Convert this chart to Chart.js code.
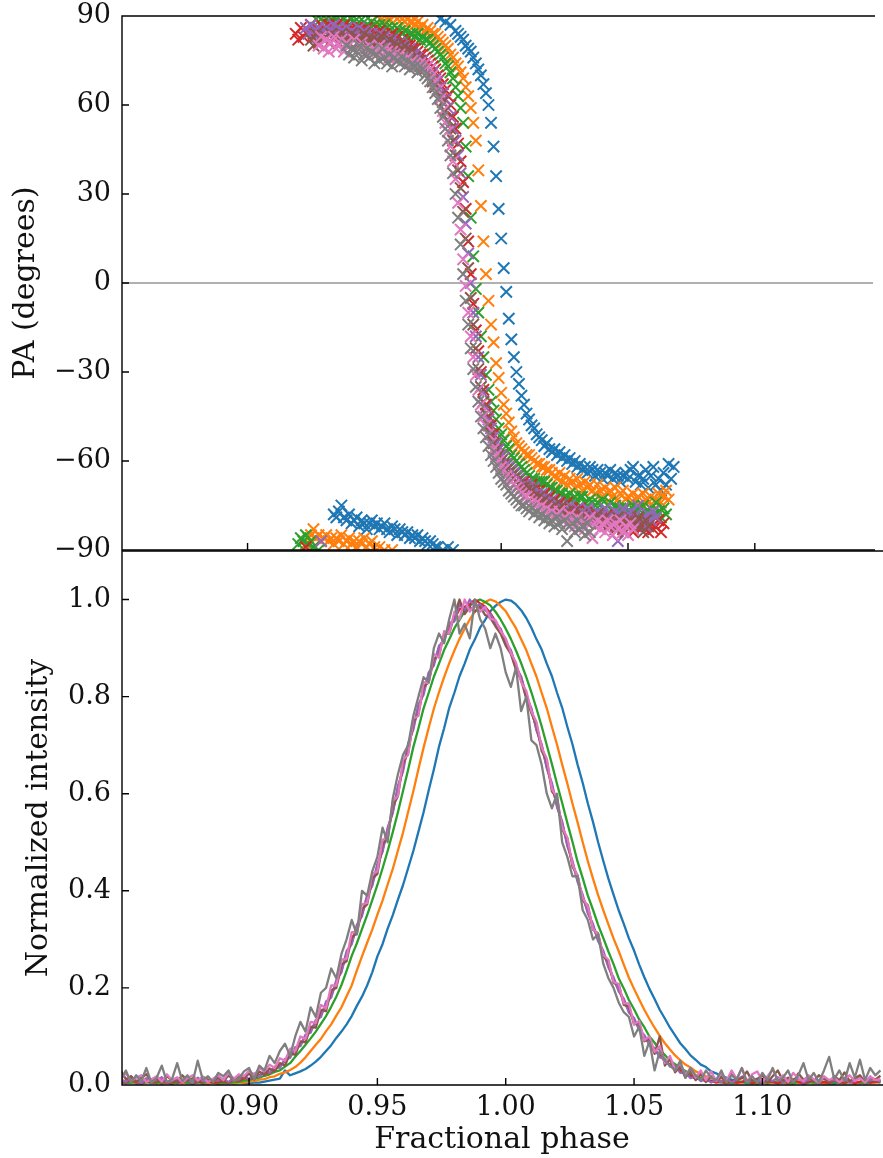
<!DOCTYPE html>
<html>
<head>
<meta charset="utf-8">
<script src="https://cdn.jsdelivr.net/npm/chart.js@4.4.1/dist/chart.umd.min.js"></script>
<style>
  html, body { margin: 0; padding: 0; background: #fff; }
  #wrap { position: relative; width: 883px; height: 1158px; overflow: hidden; }
  #wrap canvas { position: absolute; left: 0; }
  #intensityCanvas { top: 540px; }
  #paCanvas { top: 0; }
</style>
</head>
<body>
<div id="wrap">
  <canvas id="intensityCanvas" width="883" height="618"></canvas>
  <canvas id="paCanvas" width="883" height="560"></canvas>
</div>
<script>
// ---- axis limits and tick values ----
const PHASE_MIN = 0.8505;
const PHASE_MAX = 1.1466;
const phaseTicks = [0.90, 0.95, 1.00, 1.05, 1.10];
const paTicks = [-90, -60, -30, 0, 30, 60, 90];
const intensityTicks = [0.0, 0.2, 0.4, 0.6, 0.8, 1.0];

// ---- position angle: phase bins and one PA list per profile (degrees) ----
const paPhase = [
  0.919,0.920,0.921,0.922,0.923,0.924,0.925,0.926,0.927,0.928,
  0.929,0.930,0.931,0.932,0.933,0.934,0.935,0.936,0.937,0.938,
  0.939,0.940,0.941,0.942,0.943,0.944,0.945,0.946,0.947,0.948,
  0.949,0.950,0.951,0.952,0.953,0.954,0.955,0.956,0.957,0.958,
  0.959,0.960,0.961,0.962,0.963,0.964,0.965,0.966,0.967,0.968,
  0.969,0.970,0.971,0.972,0.973,0.974,0.975,0.976,0.977,0.978,
  0.979,0.980,0.981,0.982,0.983,0.984,0.985,0.986,0.987,0.988,
  0.989,0.990,0.991,0.992,0.993,0.994,0.995,0.996,0.997,0.998,
  0.999,1.000,1.001,1.002,1.003,1.004,1.005,1.006,1.007,1.008,
  1.009,1.010,1.011,1.012,1.013,1.014,1.015,1.016,1.017,1.018,
  1.019,1.020,1.021,1.022,1.023,1.024,1.025,1.026,1.027,1.028,
  1.029,1.030,1.031,1.032,1.033,1.034,1.035,1.036,1.037,1.038,
  1.039,1.040,1.041,1.042,1.043,1.044,1.045,1.046,1.047,1.048,
  1.049,1.050,1.051,1.052,1.053,1.054,1.055,1.056,1.057,1.058,
  1.059,1.060,1.061,1.062,1.063,1.064,1.065,1.066,1.067,1.068
];

const pa0 = [
  null,null,null,null,null,null,null,null,null,null,null,null,null,null,null,
  -78,-79,-77,-75,-79,-80,-78,-81,-80,-79,
  -82,-80,-81,-83,-81,-80,-82,-81,-83,-82,
  -81,-83,-84,-82,-83,-85,-83,-84,-85,-84,
  -86,-85,-86,-85,-87,-86,-87,-88,-87,-88,
  -89,
  -89,89,-90,88,-89,87,-90,85,84,83,
  82,80,79,78,76,74,72,70,67,64,
  60,54,46,36,25,15,5,-3,-12,-19,
  -25,-30,-34,-38,-41,-44,-46,-48,-49,-51,
  -52,-53,
  -55,-54,-56,-57,-56,-58,-57,-59,-58,-60,
  -59,-61,-60,-62,-61,-63,-62,-64,-62,-63,
  -65,-63,-64,-66,-64,-65,-63,-66,-64,-65,
  -67,-65,-64,-66,-63,-62,-67,-65,-68,-66,
  -63,-69,-65,-62,-68,-66,-70,-64,-68,-61,
  -66,-62
];

const pa1 = [
  null,null,null,null,
  -88,-86,-85,-83,-86,-85,-87,-86,-85,-87,
  -86,-88,-86,-87,-85,-88,-87,-86,-88,-87,
  -89,-87,-88,-86,-89,-88,-87,-89,90,-89,
  89,-90,89,
  89,-90,90,89,90,89,88,89,88,88,
  87,88,86,87,85,86,85,84,84,83,
  82,81,80,79,77,76,74,73,71,69,
  66,63,59,54,48,38,26,14,3,-6,
  -14,-20,-27,-32,-37,-41,-44,-47,-50,-52,
  -54,-55,-56,-57,-58,-58,-59,-60,-61,-61,
  -62,-62,-63,-63,-64,-65,
  -66,-64,-67,-65,-68,-66,-67,-69,-66,-68,
  -70,-67,-69,-68,-70,-71,-68,-70,-72,-69,
  -71,-70,-72,-69,-73,-71,-70,-73,-72,-74,
  -71,-73,-72,-75,-71,-73,-74,-72,-75,-73,
  -71,-74,-72,-70,-73,
  null,null
];

const pa2 = [
  null,
  -88,-86,-87,-85,-88,-87,-89,89,-90,89,
  88,89,87,89,88,90,88,87,89,88,
  87,89,88,87,88,86,88,87,86,88,
  87,86,87,85,87,86,85,86,84,86,
  85,84,85,83,84,84,83,84,82,83,
  82,
  82,81,80,79,78,77,76,74,73,71,
  69,66,63,59,54,46,36,22,9,-2,
  -10,-18,-25,-31,-36,-40,-43,-46,-49,-51,
  -53,-55,-56,-58,-59,-60,-61,-62,-63,-64,
  -65,-66,-66,-67,-67,-67,
  -67,-68,-69,-69,-70,-70,-71,-71,-72,-72,
  -71,-73,-72,-74,-72,-72,-74,-75,-73,-74,
  -75,-74,-75,-73,-76,-75,-74,-77,-75,-76,
  -76,-78,-76,-77,-79,-75,-77,-76,-78,-75,
  -77,-79,-76,-78,-74,-77,-79,-76,-78,
  null,null,null
];

const pa3 = [
  84,82,86,83,-89,85,87,84,86,85,
  87,86,
  86,87,85,86,87,86,85,87,86,85,
  86,84,86,85,84,85,86,84,85,83,
  84,85,83,84,82,83,84,82,83,81,
  82,81,80,80,79,79,78,77,77,76,
  75,74,73,72,70,69,67,65,63,60,
  56,52,47,41,34,25,14,3,-7,-16,
  -23,-30,-36,-41,-45,-48,-51,-54,-56,-58,
  -59,-61,-62,-63,-64,-65,-66,-67,-67,-68,
  -69,-68,-70,-71,-70,-72,-71,-73,-72,-74,
  -73,-75,-74,-76,-75,-74,-77,-76,-78,-77,
  -76,-78,-79,-77,-78,-80,-78,-79,-81,-79,
  -80,-78,-81,-80,-82,-79,-81,-83,-80,-82,
  -79,-84,-81,-80,-83,-82,-80,-84,-81,-83,
  -82,-80,-84,-81,
  null,null,null,null
];

const pa4 = [
  null,null,null,null,
  86,84,87,85,83,86,-87,85,
  86,84,85,87,84,86,85,83,86,84,
  85,83,84,86,83,85,84,82,84,83,
  82,84,81,83,82,80,82,81,79,81,
  80,79,78,79,77,77,76,75,75,74,
  73,72,71,69,68,66,64,62,59,56,
  52,48,43,37,29,20,10,0,-10,-18,
  -25,-31,-37,-42,-46,-49,-52,-54,-56,-58,
  -59,-61,-62,-63,-64,-65,-66,-67,-68,-68,
  -69,-70,-69,-71,-72,-71,-73,-72,-74,-73,
  -75,-74,-76,-75,-77,-76,-75,-78,-77,-76,
  -79,-77,-78,-76,-79,-78,-80,-77,-79,-78,
  -76,-80,-78,-79,-77,-87,-78,-76,-80,-79,
  -77,-81,-78,-75,-80,-79,-82,-78,-80,-77,
  -79,
  null,null,null,null,null,null,null
];

const pa5 = [
  null,null,null,null,null,null,
  82,80,84,81,83,82,
  83,81,84,82,83,81,84,82,83,81,
  84,82,83,81,82,84,81,83,82,80,
  82,81,83,80,81,82,79,81,80,78,
  79,80,78,77,78,76,75,75,73,72,
  71,70,68,66,65,63,61,58,55,52,
  48,43,38,32,24,15,5,-5,-14,-22,
  -29,-35,-40,-44,-48,-51,-54,-56,-58,-60,
  -61,-63,-64,-65,-66,-67,-68,-69,-69,-70,
  -71,-70,-72,-73,-72,-74,-73,-75,-74,-76,
  -75,-77,-76,-75,-78,-77,-79,-78,-77,-79,
  -80,-78,-79,-81,-79,-80,-82,-78,-81,-80,
  -79,-82,-80,-81,-83,-79,-82,-80,-84,-81,
  -80,-83,-81,-79,-82,-84,-80,-82,
  null,null,null,null,null,null,null,null,null,null
];

const pa6 = [
  null,null,null,null,null,null,null,null,null,
  80,83,79,
  82,78,81,83,79,80,82,78,81,80,
  79,82,78,80,81,79,77,80,78,79,
  78,80,77,79,78,76,78,77,76,77,
  76,75,76,74,75,74,73,74,72,74,
  73,72,70,68,65,62,58,54,51,46,
  41,35,27,18,8,-1,-10,-18,-25,-31,
  -36,-41,-45,-48,-51,-54,-56,-58,-60,-62,
  -63,-65,-66,-67,-68,-69,-70,-71,-72,-72,
  -73,-74,-75,-74,-76,-75,-77,-76,-78,-77,
  -79,-78,-77,-80,-79,-81,-78,-80,-82,-79,
  -81,-80,-83,-81,-79,-86,-82,-80,-83,-81,
  -84,-80,-82,-85,-81,-83,-80,-84,-82,-85,
  -81,-83,
  null,null,null,null,null,null,null,null,null,null,null,null,null,null,null,null
];

const pa7 = [
  null,null,null,null,null,null,null,null,null,null,
  null,null,null,null,null,null,null,null,null,null,
  80,77,79,76,78,80,75,77,79,76,
  78,74,77,75,79,76,74,77,73,76,
  75,74,76,73,75,72,74,73,71,73,
  72,70,
  69,68,66,64,62,59,56,52,48,43,
  37,30,22,13,3,-6,-14,-22,-29,-35,
  -40,-45,-49,-52,-55,-58,-60,-62,-64,-66,
  -67,-68,-70,-71,-72,-73,-74,-75,-75,-76,
  -77,-76,-78,-77,-79,-78,-80,-79,-81,-80,
  -82,-79,-81,-83,-80,-87,-82,-81,-84,-80,
  -83,-82,-85,-81,-84,
  null,null,null,null,null,null,null,null,null,null,
  null,null,null,null,null,null,null,null,null,null,
  null,null,null,null,null,null,null,null,null,null,
  null,null,null
];

// ---- normalized intensity profiles on a common phase grid ----
const intensityPhase = [
  0.850,0.852,0.854,0.856,0.858,0.860,0.862,0.864,0.866,0.868,
  0.870,0.872,0.874,0.876,0.878,0.880,0.882,0.884,0.886,0.888,
  0.890,0.892,0.894,0.896,0.898,0.900,0.902,0.904,0.906,0.908,
  0.910,0.912,0.914,0.916,0.918,0.920,0.922,0.924,0.926,0.928,
  0.930,0.932,0.934,0.936,0.938,0.940,0.942,0.944,0.946,0.948,
  0.950,0.952,0.954,0.956,0.958,0.960,0.962,0.964,0.966,0.968,
  0.970,0.972,0.974,0.976,0.978,0.980,0.982,0.984,0.986,0.988,
  0.990,0.992,0.994,0.996,0.998,1.000,1.002,1.004,1.006,1.008,
  1.010,1.012,1.014,1.016,1.018,1.020,1.022,1.024,1.026,1.028,
  1.030,1.032,1.034,1.036,1.038,1.040,1.042,1.044,1.046,1.048,
  1.050,1.052,1.054,1.056,1.058,1.060,1.062,1.064,1.066,1.068,
  1.070,1.072,1.074,1.076,1.078,1.080,1.082,1.084,1.086,1.088,
  1.090,1.092,1.094,1.096,1.098,1.100,1.102,1.104,1.106,1.108,
  1.110,1.112,1.114,1.116,1.118,1.120,1.122,1.124,1.126,1.128,
  1.130,1.132,1.134,1.136,1.138,1.140,1.142,1.144,1.146
];

const int0 = [
  0.006,0.004,0.007,0.003,0.005,0.008,0.004,0.006,0.003,0.005,
  0.007,0.004,0.006,0.005,0.003,0.006,0.008,0.004,0.005,0.003,
  0.006,0.004,0.005,0.007,0.004,
  0.004,0.005,0.005,0.007,0.009,0.011,0.013,0.03,0.02,0.024,
  0.028,0.033,0.04,0.048,0.058,0.07,0.082,0.097,0.11,0.125,
  0.142,0.163,0.182,0.205,0.232,0.265,0.29,0.322,0.35,0.382,
  0.412,0.447,0.482,0.522,0.562,0.607,0.65,0.697,0.735,0.777,
  0.808,0.842,0.868,0.897,0.918,0.942,0.958,0.976,0.987,0.995,
  1.0,0.998,0.99,0.978,0.962,0.942,0.918,0.897,0.868,0.842,
  0.808,0.777,0.738,0.702,0.66,0.622,0.58,0.542,0.5,0.462,
  0.425,0.392,0.36,0.332,0.302,0.277,0.248,0.222,0.198,0.177,
  0.155,0.137,0.118,0.102,0.086,0.074,0.061,0.052,0.042,0.037,
  0.028,0.024,0.018,0.015,0.011,0.008,
  0.006,0.005,0.004,0.007,0.005,0.003,0.006,0.004,0.005,0.007,
  0.004,0.006,0.003,0.005,0.008,0.004,0.006,0.005,0.003,0.006,
  0.004,0.007,0.005,0.004,0.006,0.005,0.008,0.01
];

const int1 = [
  0.005,0.007,0.004,0.006,0.003,0.005,0.008,0.004,0.006,0.005,
  0.003,0.007,0.004,0.006,0.005,0.008,0.004,0.003,0.006,0.005,
  0.004,0.006,
  0.003,0.005,0.005,0.007,0.008,0.011,0.012,0.016,0.018,0.023,
  0.026,0.031,0.037,0.046,0.057,0.07,0.083,0.095,0.111,0.125,
  0.143,0.16,0.183,0.205,0.236,0.265,0.293,0.32,0.351,0.38,
  0.413,0.445,0.483,0.52,0.563,0.605,0.651,0.695,0.736,0.775,
  0.809,0.84,0.869,0.895,0.919,0.94,0.959,0.975,0.988,0.995,
  1.0,0.996,0.987,0.976,0.958,0.941,0.918,0.896,0.868,0.841,
  0.808,0.776,0.738,0.701,0.66,0.621,0.58,0.541,0.5,0.461,
  0.425,0.391,0.36,0.331,0.302,0.276,0.248,0.221,0.198,0.176,
  0.155,0.136,0.118,0.101,0.086,0.073,0.061,0.051,0.042,0.036,
  0.028,0.023,0.018,0.015,0.011,0.009,0.006,0.005,
  0.004,0.006,0.005,0.003,0.007,0.005,0.004,0.006,0.008,0.005,
  0.003,0.006,0.004,0.005,0.007,0.004,0.006,0.003,0.005,0.008,
  0.004,0.006,0.005,0.003,0.006,0.004,0.007,0.005,0.006
];

const int2 = [
  0.006,0.004,0.005,0.008,0.003,0.006,0.005,0.004,0.007,0.005,
  0.003,0.006,0.008,0.004,0.005,0.006,0.003,0.007,0.005,0.004,
  0.004,0.004,0.006,0.006,0.009,0.01,0.013,0.015,0.019,0.022,
  0.027,0.03,0.038,0.045,0.058,0.07,0.083,0.096,0.11,0.126,
  0.142,0.161,0.182,0.206,0.235,0.266,0.292,0.321,0.35,0.381,
  0.412,0.446,0.482,0.521,0.562,0.606,0.65,0.696,0.735,0.776,
  0.808,0.841,0.868,0.896,0.918,0.941,0.958,0.976,0.987,0.996,
  1.0,0.995,0.988,0.975,0.959,0.94,0.919,0.895,0.869,0.84,
  0.809,0.775,0.739,0.7,0.661,0.62,0.581,0.54,0.501,0.46,
  0.426,0.39,0.361,0.33,0.303,0.275,0.249,0.22,0.199,0.175,
  0.156,0.135,0.119,0.1,0.087,0.072,0.062,0.05,0.043,0.035,
  0.029,0.022,0.019,0.014,0.012,0.008,0.007,0.005,
  0.005,0.004,0.006,0.007,0.004,0.005,0.003,0.006,0.005,0.008,
  0.004,0.006,0.005,0.003,0.007,0.004,0.006,0.005,0.004,0.007,
  0.003,0.006,0.005,0.004,0.008,0.005,0.006,0.004,0.005,0.007,
  0.005
];

const int3 = [
  0.008,0.005,0.012,0.006,0.004,0.009,0.005,0.007,0.011,0.004,
  0.006,0.008,0.005,0.01,0.004,0.007,0.006,0.009,0.005,
  0.006,0.008,0.005,0.01,0.009,0.014,0.012,0.018,0.02,0.026,
  0.024,0.034,0.038,0.05,0.058,0.074,0.083,0.1,0.112,0.13,
  0.145,0.166,0.184,0.211,0.236,0.27,0.294,0.326,0.352,0.386,
  0.414,0.451,0.484,0.526,0.564,0.611,0.652,0.7,0.737,0.779,
  0.81,0.845,0.869,0.9,0.92,0.945,0.96,0.98,0.985,0.99,
  1.0,0.992,0.985,0.972,0.955,0.938,0.914,0.893,0.864,0.838,
  0.804,0.772,0.734,0.698,0.656,0.617,0.576,0.538,0.497,0.457,
  0.423,0.386,0.358,0.327,0.3,0.272,0.246,0.217,0.197,0.173,
  0.153,0.133,0.117,0.098,0.086,0.07,0.062,0.049,0.043,0.034,
  0.03,0.021,0.019,0.013,0.012,0.008,0.009,0.005,
  0.007,0.004,0.009,0.005,0.006,0.011,0.004,0.007,0.005,0.009,
  0.006,0.004,0.008,0.005,0.012,0.006,0.004,0.007,0.01,0.005,
  0.006,0.004,0.009,0.006,0.005,0.008,0.004,0.007,0.011,0.005,
  0.006,0.008
];

const int4 = [
  0.012,0.006,0.018,0.009,0.004,0.014,0.007,0.01,0.016,0.005,
  0.008,0.013,0.006,0.011,0.004,0.015,0.008,0.006,0.012,
  0.009,0.013,0.006,0.015,0.011,0.019,0.012,0.024,0.017,0.03,
  0.025,0.038,0.035,0.054,0.056,0.078,0.08,0.104,0.108,0.134,
  0.14,0.172,0.18,0.216,0.232,0.276,0.29,0.33,0.348,0.392,
  0.41,0.456,0.48,0.53,0.56,0.616,0.646,0.704,0.732,0.784,
  0.804,0.85,0.864,0.905,0.914,0.952,0.955,0.99,0.978,1.0,
  0.985,0.99,0.978,0.97,0.95,0.94,0.91,0.896,0.86,0.842,
  0.8,0.776,0.73,0.702,0.652,0.622,0.572,0.543,0.492,0.462,
  0.418,0.392,0.353,0.332,0.296,0.277,0.242,0.222,0.193,0.178,
  0.149,0.138,0.113,0.103,0.082,0.076,0.057,0.054,0.038,0.039,
  0.025,0.026,0.014,0.018,0.008,0.013,0.005,0.01,
  0.006,0.014,0.005,0.011,0.017,0.006,0.009,0.013,0.004,0.012,
  0.008,0.016,0.005,0.01,0.007,0.014,0.005,0.012,0.009,0.004,
  0.015,0.007,0.011,0.006,0.013,0.005,0.009,0.016,0.006,0.01,
  0.012,0.007
];

const int5 = [
  0.03,0.012,0.018,0.006,0.015,0.022,0.008,0.013,0.004,0.018,
  0.01,0.007,0.02,0.009,0.014,0.005,0.017,0.011,0.008,
  0.015,0.007,0.02,0.01,0.018,0.013,0.024,0.011,0.028,0.02,
  0.034,0.028,0.045,0.04,0.066,0.062,0.09,0.088,0.12,0.118,
  0.155,0.152,0.195,0.2,0.248,0.255,0.305,0.312,0.362,0.372,
  0.425,0.435,0.495,0.51,0.575,0.595,0.662,0.685,0.748,0.765,
  0.82,0.83,0.878,0.885,0.93,0.93,0.968,1.0,0.97,0.985,
  0.975,0.985,0.968,0.962,0.945,0.93,0.905,0.888,0.855,0.835,
  0.796,0.766,0.742,0.688,0.668,0.605,0.59,0.527,0.508,0.45,
  0.432,0.38,0.37,0.32,0.312,0.265,0.255,0.21,0.208,0.165,
  0.162,0.125,0.128,0.09,0.095,0.064,0.1,0.04,0.055,0.026,
  0.04,0.015,0.03,0.01,0.022,0.006,0.018,0.008,
  0.016,0.006,0.022,0.01,0.014,0.028,0.008,0.012,0.02,0.005,
  0.018,0.03,0.009,0.015,0.006,0.024,0.011,0.017,0.007,0.02,
  0.013,0.005,0.018,0.01,0.026,0.008,0.014,0.02,0.006,0.016,
  0.011,0.019
];

const int6 = [
  0.01,0.025,0.008,0.015,0.02,0.006,0.012,0.018,0.007,0.022,
  0.01,0.016,0.005,0.014,0.02,0.009,0.017,0.006,0.013,
  0.02,0.01,0.025,0.012,0.022,0.018,0.03,0.02,0.035,0.028,
  0.042,0.035,0.055,0.05,0.075,0.07,0.1,0.095,0.13,0.128,
  0.165,0.158,0.205,0.205,0.258,0.26,0.315,0.315,0.372,0.375,
  0.435,0.44,0.505,0.51,0.585,0.595,0.67,0.68,0.755,0.76,
  0.83,0.828,0.888,0.88,0.935,0.93,0.975,0.96,1.0,0.975,
  0.99,0.975,0.985,0.96,0.958,0.935,0.92,0.89,0.87,0.83,
  0.812,0.77,0.748,0.695,0.672,0.61,0.592,0.53,0.51,0.455,
  0.43,0.385,0.368,0.322,0.31,0.268,0.258,0.212,0.208,0.168,
  0.168,0.125,0.132,0.092,0.1,0.068,0.08,0.045,0.06,0.03,
  0.045,0.02,0.035,0.015,0.03,0.01,0.028,0.008,
  0.025,0.008,0.03,0.012,0.035,0.006,0.022,0.028,0.008,0.018,
  0.032,0.01,0.02,0.006,0.025,0.014,0.008,0.02,0.012,0.005,
  0.018,0.01,0.015,0.006,0.012,0.02,0.008,0.014,0.005,0.018,
  0.01,0.012
];

const int7 = [
  0.01,0.03,0.005,0.02,0.008,0.035,0.004,0.015,0.04,0.006,
  0.012,0.045,0.008,0.02,0.005,0.05,0.01,0.018,
  0.006,0.025,0.018,0.03,0.008,0.012,0.028,0.035,0.012,0.04,
  0.03,0.06,0.045,0.07,0.085,0.06,0.1,0.13,0.11,0.16,
  0.14,0.19,0.2,0.24,0.22,0.27,0.3,0.34,0.31,0.4,
  0.39,0.44,0.47,0.53,0.5,0.59,0.64,0.68,0.7,0.76,
  0.8,0.84,0.83,0.9,0.93,0.91,0.96,1.0,0.93,0.95,
  0.92,1.0,0.96,0.94,0.9,0.93,0.9,0.85,0.82,0.86,
  0.77,0.8,0.71,0.7,0.66,0.6,0.57,0.6,0.5,0.47,
  0.43,0.43,0.36,0.34,0.3,0.31,0.25,0.22,0.2,0.17,
  0.15,0.14,0.1,0.12,0.06,0.09,0.03,0.07,0.05,0.04,
  0.03,0.05,0.015,0.035,0.02,0.01,0.03,0.015,
  0.01,0.03,0.005,0.02,0.012,0.035,0.006,0.018,0.004,0.025,
  0.01,0.035,0.008,0.015,0.03,0.005,0.02,0.045,0.01,0.025,
  0.006,0.03,0.058,0.012,0.03,0.008,0.045,0.015,0.052,0.01,
  0.035,0.02,0.03
];

const profileColors = ['#1f77b4', '#ff7f0e', '#2ca02c', '#d62728', '#9467bd', '#8c564b', '#e377c2', '#7f7f7f'];
const paSeries = [pa0, pa1, pa2, pa3, pa4, pa5, pa6, pa7];
const intensitySeries = [int0, int1, int2, int3, int4, int5, int6, int7];

// ---- shared styling ----
const FONT = 'DejaVu Serif';
const tickFont = { family: FONT, size: 27 };
const titleFont = { family: FONT, size: 30 };
const TEXT = '#111';
const minus = v => (v < 0 ? '\u2212' + Math.abs(v) : String(v));

Chart.defaults.font.family = FONT;
Chart.defaults.color = TEXT;

// Spines on top/left/bottom and short inward tick marks.
const axesFrame = {
  id: 'axesFrame',
  afterDatasetsDraw(chart) {
    const { ctx, chartArea: a, scales: { x, y } } = chart;
    ctx.save();
    ctx.strokeStyle = '#000';
    ctx.lineWidth = 1.4;
    ctx.beginPath();
    ctx.moveTo(a.right + 2, a.top); ctx.lineTo(a.left, a.top);
    ctx.lineTo(a.left, a.bottom); ctx.lineTo(a.right + 2, a.bottom);
    for (const t of x.ticks) {
      const px = x.getPixelForValue(t.value);
      ctx.moveTo(px, a.bottom); ctx.lineTo(px, a.bottom - 7);
    }
    for (const t of y.ticks) {
      const py = y.getPixelForValue(t.value);
      ctx.moveTo(a.left, py); ctx.lineTo(a.left + 7, py);
    }
    ctx.stroke();
    ctx.restore();
  }
};

function noScalePadding(scale) {
  scale.paddingTop = 0; scale.paddingBottom = 0;
  scale.paddingLeft = 0; scale.paddingRight = 0;
}

function phaseAxis(showLabels, height) {
  return {
    type: 'linear',
    min: PHASE_MIN,
    max: PHASE_MAX,
    grid: { display: false, drawTicks: false },
    border: { display: false },
    ticks: {
      display: showLabels,
      font: tickFont,
      color: TEXT,
      padding: 7,
      maxRotation: 0,
      autoSkip: false,
      callback: v => Number(v).toFixed(2)
    },
    title: showLabels
      ? { display: true, text: 'Fractional phase', font: titleFont, color: TEXT, padding: { top: 0, bottom: 0 } }
      : { display: false },
    afterBuildTicks: s => { s.ticks = phaseTicks.map(value => ({ value })); },
    afterFit: s => { s.height = height; noScalePadding(s); }
  };
}

// ---- top panel: position angle ----
const paDatasets = paSeries.map((vals, i) => ({
  type: 'scatter',
  data: paPhase
    .map((x, j) => ({ x, y: vals[j] }))
    .filter(p => p.y !== null && p.y !== undefined),
  pointStyle: 'crossRot',
  pointRadius: 8,
  pointBorderWidth: 2,
  borderColor: profileColors[i],
  backgroundColor: profileColors[i],
  order: profileColors.length - i,
  clip: 0
}));
paDatasets.push({
  type: 'line',
  data: [{ x: PHASE_MIN, y: 0 }, { x: PHASE_MAX, y: 0 }],
  borderColor: '#b0b0b0',
  borderWidth: 2.2,
  pointRadius: 0,
  order: 100,
  clip: 0
});

new Chart(document.getElementById('paCanvas'), {
  type: 'scatter',
  data: { datasets: paDatasets },
  options: {
    responsive: false,
    animation: false,
    devicePixelRatio: 1,
    layout: { padding: { top: 16, right: 1, bottom: 0, left: 0 } },
    plugins: { legend: { display: false }, tooltip: { enabled: false } },
    events: [],
    scales: {
      x: phaseAxis(false, 9),
      y: {
        type: 'linear',
        min: -90,
        max: 90,
        grid: { display: false, drawTicks: false },
        border: { display: false },
        ticks: { font: tickFont, color: TEXT, padding: 11, autoSkip: false, callback: v => minus(v) },
        title: { display: true, text: 'PA (degrees)', font: titleFont, color: TEXT, padding: { top: 8, bottom: 0 } },
        afterBuildTicks: s => { s.ticks = paTicks.map(value => ({ value })); },
        afterFit: s => { s.width = 122; noScalePadding(s); }
      }
    }
  },
  plugins: [axesFrame]
});

// ---- bottom panel: normalized intensity ----
const intensityDatasets = intensitySeries.map((vals, i) => ({
  type: 'line',
  data: intensityPhase.map((x, k) => ({ x, y: vals[k] })).filter(p => p.y !== undefined),
  borderColor: profileColors[i],
  backgroundColor: profileColors[i],
  borderWidth: 2.3,
  borderJoinStyle: 'round',
  pointRadius: 0,
  tension: 0,
  fill: false,
  order: profileColors.length - i,
  clip: 0
}));

new Chart(document.getElementById('intensityCanvas'), {
  type: 'line',
  data: { datasets: intensityDatasets },
  options: {
    responsive: false,
    animation: false,
    devicePixelRatio: 1,
    layout: { padding: { top: 11, right: 1, bottom: 0, left: 0 } },
    plugins: { legend: { display: false }, tooltip: { enabled: false } },
    events: [],
    scales: {
      x: phaseAxis(true, 73),
      y: {
        type: 'linear',
        min: 0,
        max: 1.1,
        grid: { display: false, drawTicks: false },
        border: { display: false },
        ticks: { font: tickFont, color: TEXT, padding: 11, autoSkip: false, callback: v => Number(v).toFixed(1) },
        title: { display: true, text: 'Normalized intensity', font: titleFont, color: TEXT, padding: { top: 21, bottom: 0 } },
        afterBuildTicks: s => { s.ticks = intensityTicks.map(value => ({ value })); },
        afterFit: s => { s.width = 122; noScalePadding(s); }
      }
    }
  },
  plugins: [axesFrame]
});
</script>
</body>
</html>
